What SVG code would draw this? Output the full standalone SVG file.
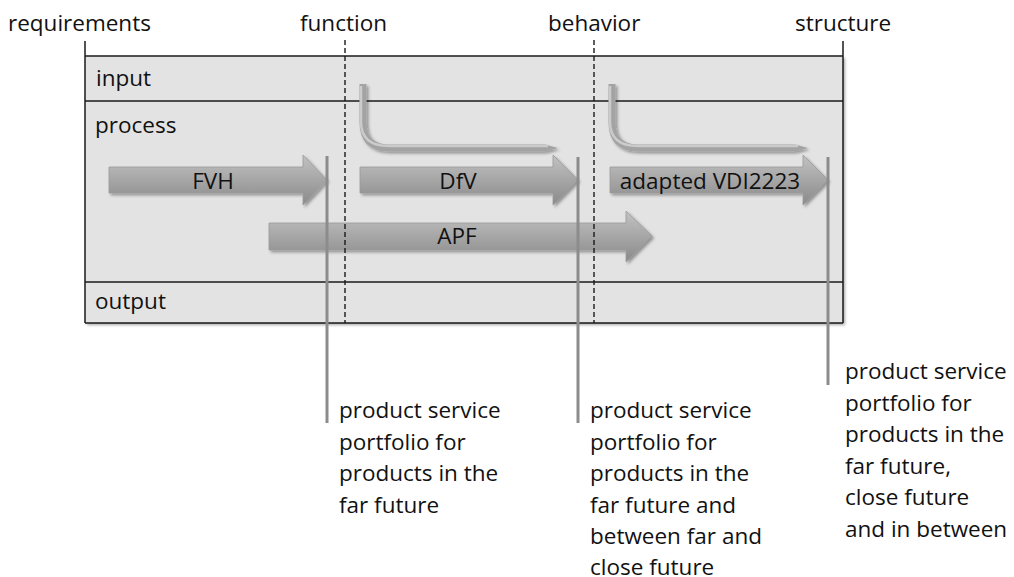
<svg xmlns="http://www.w3.org/2000/svg" width="1014" height="577" viewBox="0 0 1014 577">
<defs>
<linearGradient id="ag" x1="0" y1="0" x2="0" y2="1">
<stop offset="0" stop-color="#c2c2c2"/>
<stop offset="1" stop-color="#8a8a8a"/>
</linearGradient>
<filter id="sh" x="-10%" y="-30%" width="130%" height="180%">
<feDropShadow dx="2" dy="2" stdDeviation="1.5" flood-color="#000" flood-opacity="0.35"/>
</filter>
</defs>
<style>
text{font-family:"Open Sans","Noto Sans","DejaVu Sans",sans-serif;font-size:22.5px;fill:#111}
.lane{fill:#e3e3e3;stroke:none}
.frame{fill:none;stroke:#1a1a1a;stroke-width:1.5}
.dash{stroke:#1a1a1a;stroke-width:1.4;stroke-dasharray:5,3;fill:none}
.arr{fill:url(#ag);stroke:#9a9a9a;stroke-width:0.8;filter:url(#sh)}
.ms{stroke:#8c8c8c;stroke-width:3;fill:none}
.bend{stroke:#a3a3a3;stroke-width:7;fill:none;filter:url(#sh)}
.bendh{stroke:#cbcbcb;stroke-width:2.5;fill:none}
.tip{fill:#a3a3a3;filter:url(#sh)}
.mid{text-anchor:middle}
</style>

<g id="axis-labels">
<text x="8" y="31">requirements</text>
<text x="300" y="31">function</text>
<text x="548" y="31">behavior</text>
<text x="795" y="31">structure</text>
</g>

<g id="frame">
<rect class="lane" x="85" y="56" width="758" height="267" filter="url(#sh)"/>
<line class="frame" x1="85" y1="41" x2="85" y2="323"/>
<line class="frame" x1="843" y1="41" x2="843" y2="323"/>
<line class="frame" x1="85" y1="56" x2="843" y2="56"/>
<line class="frame" x1="85" y1="101" x2="843" y2="101"/>
<line class="frame" x1="85" y1="282" x2="843" y2="282"/>
<line class="frame" x1="85" y1="323" x2="843" y2="323"/>
</g>

<g id="lane-labels">
<text x="96" y="86">input</text>
<text x="95" y="133">process</text>
<text x="95" y="309">output</text>
</g>

<g id="arrow-FVH">
<polygon class="arr" points="109,167 303,167 303,155 327,180 303,205 303,193 109,193"/>
<text class="mid" x="213" y="189">FVH</text>
</g>
<g id="arrow-DfV">
<polygon class="arr" points="360,167 553,167 553,155 578,180 553,205 553,193 360,193"/>
<text class="mid" x="458" y="189">DfV</text>
</g>
<g id="arrow-VDI">
<polygon class="arr" points="610,167 803,167 803,155 828,180 803,205 803,193 610,193"/>
<text class="mid" x="710" y="189">adapted VDI2223</text>
</g>
<g id="arrow-APF">
<polygon class="arr" points="269,223 626,223 626,211 652,236 626,262 626,250 269,250"/>
<text class="mid" x="457" y="244">APF</text>
</g>

<g id="connectors">
<path class="bend" d="M363,84 V122 Q363,148 389,148 H545"/>
<polygon class="tip" points="545,144.5 558,148 545,151.5"/>
<path class="bendh" d="M361,86 V122 Q361,146 389,146 H548"/>
<path class="bend" d="M612,84 V122 Q612,148 638,148 H795"/>
<polygon class="tip" points="795,144.5 808,148 795,151.5"/>
<path class="bendh" d="M610,86 V122 Q610,146 638,146 H798"/>
<line class="dash" x1="345" y1="40" x2="345" y2="323"/>
<line class="dash" x1="594" y1="40" x2="594" y2="323"/>
<line class="ms" x1="327" y1="156" x2="327" y2="423"/>
<line class="ms" x1="578" y1="157" x2="578" y2="423"/>
<line class="ms" x1="828" y1="157" x2="828" y2="385"/>
</g>

<g id="result-function">
<text x="339" y="418">product service</text>
<text x="339" y="449.5">portfolio for</text>
<text x="339" y="481">products in the</text>
<text x="339" y="512.5">far future</text>
</g>
<g id="result-behavior">
<text x="590" y="418">product service</text>
<text x="590" y="449.5">portfolio for</text>
<text x="590" y="481">products in the</text>
<text x="590" y="512.5">far future and</text>
<text x="590" y="544">between far and</text>
<text x="590" y="575">close future</text>
</g>
<g id="result-structure">
<text x="845" y="379">product service</text>
<text x="845" y="410.5">portfolio for</text>
<text x="845" y="442">products in the</text>
<text x="845" y="473.5">far future,</text>
<text x="845" y="505">close future</text>
<text x="845" y="536.5">and in between</text>
</g>
</svg>
